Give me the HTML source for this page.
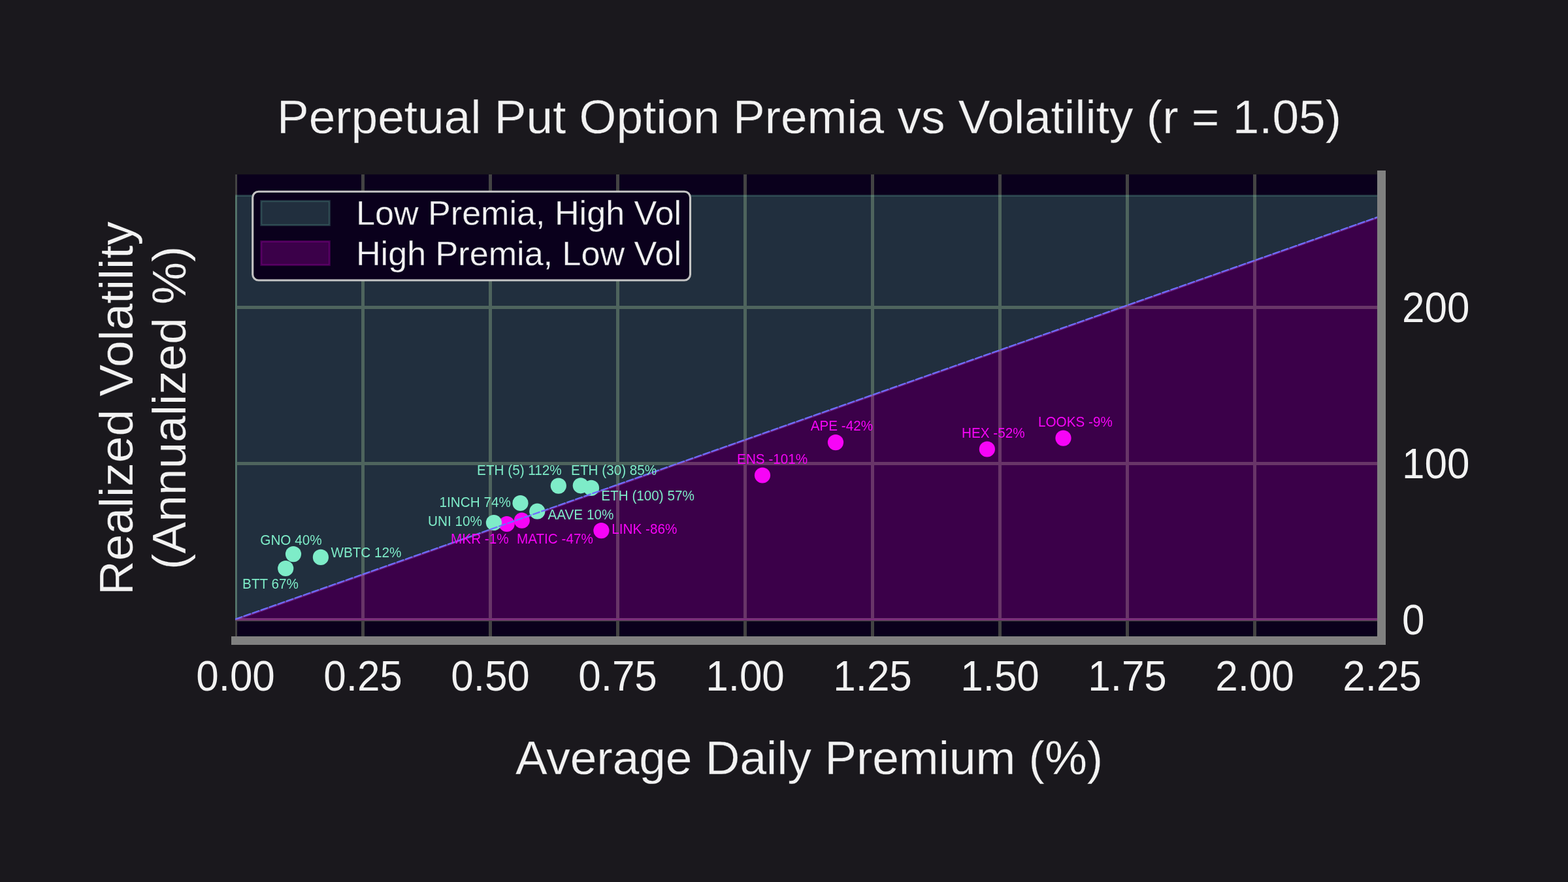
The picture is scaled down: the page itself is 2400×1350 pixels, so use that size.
<!DOCTYPE html>
<html lang="en"><head><meta charset="utf-8"><title>Perpetual Put Option Premia vs Volatility</title>
<style>
html,body{margin:0;padding:0;background:#1a181d;width:2400px;height:1350px;overflow:hidden}
svg{display:block;position:absolute;left:0;top:0}
text{font-family:"Liberation Sans",Arial,Helvetica,sans-serif;font-weight:400}
</style></head><body>
<svg width="2400" height="1350" viewBox="0 0 2400 1350">
<defs><clipPath id="ax"><rect x="360" y="267" width="1755" height="714"/></clipPath></defs>
<rect x="0" y="0" width="2400" height="1350" fill="#1a181d"/>
<rect x="360" y="267" width="1755" height="714" fill="#0a001c"/>
<g clip-path="url(#ax)">
<g fill="#434343">
<rect x="358" y="267" width="5" height="714"/>
<rect x="553" y="267" width="5" height="714"/>
<rect x="748" y="267" width="5" height="714"/>
<rect x="943" y="267" width="5" height="714"/>
<rect x="1138" y="267" width="5" height="714"/>
<rect x="1333" y="267" width="5" height="714"/>
<rect x="1528" y="267" width="5" height="714"/>
<rect x="1723" y="267" width="5" height="714"/>
<rect x="1918" y="267" width="5" height="714"/>
<rect x="2113" y="267" width="5" height="714"/>
<rect x="360" y="946" width="1755" height="5"/>
<rect x="360" y="707" width="1755" height="5"/>
<rect x="360" y="468" width="1755" height="5"/>
</g>
<polygon points="360.5,948.5 2115.5,330.74 2115.5,299.5 360.5,299.5" fill="#7eecc8" fill-opacity="0.2" stroke="#7eecc8" stroke-opacity="0.2" stroke-width="3" stroke-linejoin="miter"/>
<polygon points="360.5,948.5 2115.5,330.74 2115.5,948.5" fill="#ff00ff" fill-opacity="0.2" stroke="#ff00ff" stroke-opacity="0.2" stroke-width="3" stroke-linejoin="miter"/>
<g fill="#f704f7">
<circle cx="775.7" cy="802" r="12.1"/>
</g>
<g fill="#7eecc8">
<circle cx="449" cy="848.1" r="12.1"/>
<circle cx="437.2" cy="870" r="12.1"/>
<circle cx="490.9" cy="852.9" r="12.1"/>
<circle cx="854.8" cy="743.6" r="12.1"/>
<circle cx="888.8" cy="743.3" r="12.1"/>
<circle cx="905" cy="746.9" r="12.1"/>
<circle cx="796.5" cy="770" r="12.1"/>
<circle cx="822.3" cy="782.7" r="12.1"/>
<circle cx="755.9" cy="800" r="12.1"/>
</g>
<g fill="#f704f7">
<circle cx="798.8" cy="796.7" r="12.1"/>
<circle cx="920.4" cy="812.1" r="12.1"/>
<circle cx="1167" cy="727.5" r="12.1"/>
<circle cx="1279" cy="677.1" r="12.1"/>
<circle cx="1510.9" cy="687.5" r="12.1"/>
<circle cx="1627.5" cy="670.6" r="12.1"/>
</g>
<line x1="360.5" y1="947.6" x2="2115.5" y2="329.84" stroke="#6e6eff" stroke-width="2.2" stroke-dasharray="10.2 3.6" stroke-linecap="round"/>
</g>
<g font-size="20.7">
<text transform="translate(398.3,833.6) scale(1,1.025)" fill="#7eecc8">GNO 40%</text>
<text transform="translate(506.4,852.9) scale(1,1.025)" fill="#7eecc8">WBTC 12%</text>
<text transform="translate(371.1,900.7) scale(1,1.025)" fill="#7eecc8">BTT 67%</text>
<text transform="translate(730.1,726.8) scale(1,1.025)" fill="#7eecc8">ETH (5) 112%</text>
<text transform="translate(874.1,726.8) scale(1,1.025)" fill="#7eecc8">ETH (30) 85%</text>
<text transform="translate(920.3,765.7) scale(1,1.025)" fill="#7eecc8">ETH (100) 57%</text>
<text transform="translate(672.6,775.7) scale(1,1.025)" fill="#7eecc8">1INCH 74%</text>
<text transform="translate(655,805.4) scale(1,1.025)" fill="#7eecc8">UNI 10%</text>
<text transform="translate(838.5,794.7) scale(1,1.025)" fill="#7eecc8">AAVE 10%</text>
<text transform="translate(690.1,831.5) scale(1,1.025)" fill="#f704f7">MKR -1%</text>
<text transform="translate(790.9,831.5) scale(1,1.025)" fill="#f704f7">MATIC -47%</text>
<text transform="translate(936.3,816.9) scale(1,1.025)" fill="#f704f7">LINK -86%</text>
<text transform="translate(1128.1,709.7) scale(1,1.025)" fill="#f704f7">ENS -101%</text>
<text transform="translate(1240.7,658.9) scale(1,1.025)" fill="#f704f7">APE -42%</text>
<text transform="translate(1472,669.8) scale(1,1.025)" fill="#f704f7">HEX -52%</text>
<text transform="translate(1589,652.8) scale(1,1.025)" fill="#f704f7">LOOKS -9%</text>
</g>
<rect x="354" y="974" width="1767" height="13" fill="#808080"/>
<rect x="2108" y="261" width="13" height="726" fill="#808080"/>
<rect x="386.7" y="293.3" width="669.8" height="135.7" rx="9" ry="9" fill="#0a001c" stroke="#c4c4c4" stroke-width="3.1"/>
<rect x="399.7" y="307.7" width="104.7" height="36.9" fill="#7eecc8" fill-opacity="0.2" stroke="#7eecc8" stroke-opacity="0.2" stroke-width="3"/>
<rect x="399.7" y="369.5" width="104.7" height="36.1" fill="#ff00ff" fill-opacity="0.2" stroke="#ff00ff" stroke-opacity="0.2" stroke-width="3"/>
<g font-size="52.1" fill="#f2f2f2" stroke="#0a001c" stroke-width="0.3">
<text transform="translate(545,344.2)">Low Premia, High Vol</text>
<text transform="translate(545,406.3)">High Premia, Low Vol</text>
</g>
<g font-size="62" fill="#f2f2f2">
<text transform="translate(360.5,1057.2) scale(1,1.04)" text-anchor="middle">0.00</text>
<text transform="translate(555.5,1057.2) scale(1,1.04)" text-anchor="middle">0.25</text>
<text transform="translate(750.5,1057.2) scale(1,1.04)" text-anchor="middle">0.50</text>
<text transform="translate(945.5,1057.2) scale(1,1.04)" text-anchor="middle">0.75</text>
<text transform="translate(1140.5,1057.2) scale(1,1.04)" text-anchor="middle">1.00</text>
<text transform="translate(1335.5,1057.2) scale(1,1.04)" text-anchor="middle">1.25</text>
<text transform="translate(1530.5,1057.2) scale(1,1.04)" text-anchor="middle">1.50</text>
<text transform="translate(1725.5,1057.2) scale(1,1.04)" text-anchor="middle">1.75</text>
<text transform="translate(1920.5,1057.2) scale(1,1.04)" text-anchor="middle">2.00</text>
<text transform="translate(2115.5,1057.2) scale(1,1.04)" text-anchor="middle">2.25</text>
<text transform="translate(2146,971.1) scale(1,1.035)">0</text>
<text transform="translate(2146,732.1) scale(1,1.035)">100</text>
<text transform="translate(2146,493.1) scale(1,1.035)">200</text>
</g>
<g font-size="73" fill="#f2f2f2" stroke="#1a181d" stroke-width="0.3">
<text transform="translate(1238.5,204.4)" text-anchor="middle">Perpetual Put Option Premia vs Volatility (r = 1.05)</text>
<text transform="translate(1238.5,1185.2)" text-anchor="middle">Average Daily Premium (%)</text>
<text transform="translate(203,625) rotate(-90)" text-anchor="middle">Realized Volatility</text>
<text transform="translate(283.5,624.2) rotate(-90)" text-anchor="middle">(Annualized %)</text>
</g>
</svg>
</body></html>
